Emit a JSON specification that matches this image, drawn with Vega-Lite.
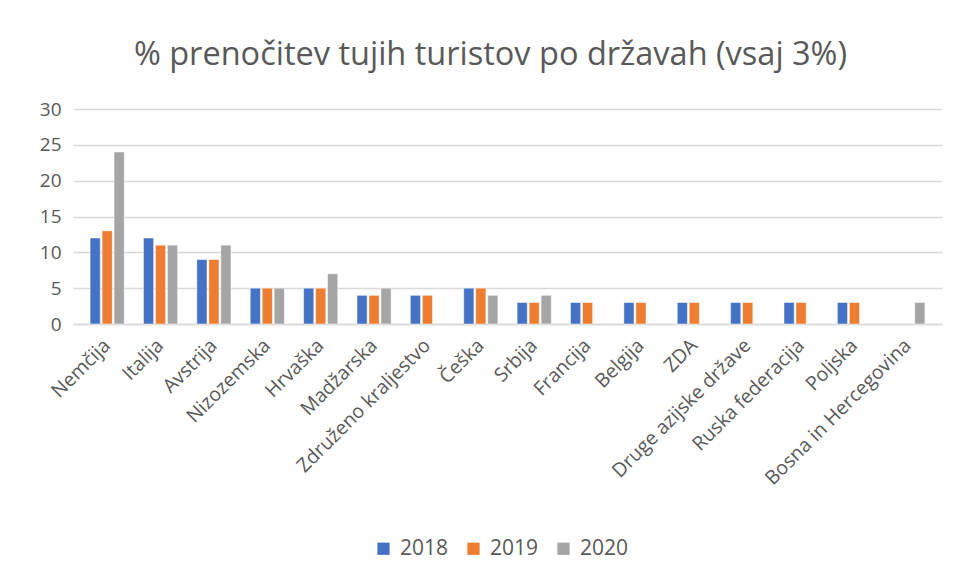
{
  "$schema": "https://vega.github.io/schema/vega-lite/v6.json",
  "autosize": "none",
  "width": 869,
  "height": 215,
  "padding": {"left": 73, "top": 109, "right": 16, "bottom": 259},
  "background": "white",
  "title": {
    "text": "% prenočitev tujih turistov po državah (vsaj 3%)",
    "font": "Open Sans",
    "fontSize": 32.5,
    "fontWeight": "normal",
    "color": "#595959",
    "anchor": "middle",
    "offset": 29,
    "dx": -17
  },
  "data": {
    "values": [
      {"drzava": "Nemčija", "leto": "2018", "odstotek": 12},
      {"drzava": "Nemčija", "leto": "2019", "odstotek": 13},
      {"drzava": "Nemčija", "leto": "2020", "odstotek": 24},
      {"drzava": "Italija", "leto": "2018", "odstotek": 12},
      {"drzava": "Italija", "leto": "2019", "odstotek": 11},
      {"drzava": "Italija", "leto": "2020", "odstotek": 11},
      {"drzava": "Avstrija", "leto": "2018", "odstotek": 9},
      {"drzava": "Avstrija", "leto": "2019", "odstotek": 9},
      {"drzava": "Avstrija", "leto": "2020", "odstotek": 11},
      {"drzava": "Nizozemska", "leto": "2018", "odstotek": 5},
      {"drzava": "Nizozemska", "leto": "2019", "odstotek": 5},
      {"drzava": "Nizozemska", "leto": "2020", "odstotek": 5},
      {"drzava": "Hrvaška", "leto": "2018", "odstotek": 5},
      {"drzava": "Hrvaška", "leto": "2019", "odstotek": 5},
      {"drzava": "Hrvaška", "leto": "2020", "odstotek": 7},
      {"drzava": "Madžarska", "leto": "2018", "odstotek": 4},
      {"drzava": "Madžarska", "leto": "2019", "odstotek": 4},
      {"drzava": "Madžarska", "leto": "2020", "odstotek": 5},
      {"drzava": "Združeno kraljestvo", "leto": "2018", "odstotek": 4},
      {"drzava": "Združeno kraljestvo", "leto": "2019", "odstotek": 4},
      {"drzava": "Češka", "leto": "2018", "odstotek": 5},
      {"drzava": "Češka", "leto": "2019", "odstotek": 5},
      {"drzava": "Češka", "leto": "2020", "odstotek": 4},
      {"drzava": "Srbija", "leto": "2018", "odstotek": 3},
      {"drzava": "Srbija", "leto": "2019", "odstotek": 3},
      {"drzava": "Srbija", "leto": "2020", "odstotek": 4},
      {"drzava": "Francija", "leto": "2018", "odstotek": 3},
      {"drzava": "Francija", "leto": "2019", "odstotek": 3},
      {"drzava": "Belgija", "leto": "2018", "odstotek": 3},
      {"drzava": "Belgija", "leto": "2019", "odstotek": 3},
      {"drzava": "ZDA", "leto": "2018", "odstotek": 3},
      {"drzava": "ZDA", "leto": "2019", "odstotek": 3},
      {"drzava": "Druge azijske države", "leto": "2018", "odstotek": 3},
      {"drzava": "Druge azijske države", "leto": "2019", "odstotek": 3},
      {"drzava": "Ruska federacija", "leto": "2018", "odstotek": 3},
      {"drzava": "Ruska federacija", "leto": "2019", "odstotek": 3},
      {"drzava": "Poljska", "leto": "2018", "odstotek": 3},
      {"drzava": "Poljska", "leto": "2019", "odstotek": 3},
      {"drzava": "Bosna in Hercegovina", "leto": "2020", "odstotek": 3}
    ]
  },
  "mark": {"type": "bar", "stroke": "white", "strokeWidth": 0.5},
  "encoding": {
    "x": {
      "field": "drzava",
      "type": "nominal",
      "sort": null,
      "title": null,
      "scale": {"paddingInner": 0.36, "paddingOuter": 0.32},
      "axis": {
        "labelAngle": -45,
        "labelAlign": "right",
        "labelBaseline": "middle",
        "labelFont": "Open Sans",
        "labelFontSize": 19.5,
        "labelColor": "#595959",
        "labelPadding": 18,
        "labelLimit": 400,
        "labelOverlap": false,
        "ticks": false,
        "domain": true,
        "domainColor": "#d9d9d9",
        "domainWidth": 1.5,
        "grid": false
      }
    },
    "xOffset": {"field": "leto", "type": "nominal", "scale": {"paddingInner": 0.15}},
    "y": {
      "field": "odstotek",
      "type": "quantitative",
      "title": null,
      "scale": {"domain": [0, 30]},
      "axis": {
        "values": [0, 5, 10, 15, 20, 25, 30],
        "labelFont": "Open Sans",
        "labelFontSize": 19,
        "labelColor": "#595959",
        "labelPadding": 12,
        "ticks": false,
        "domain": false,
        "grid": true,
        "gridColor": "#d9d9d9",
        "gridWidth": 1.5
      }
    },
    "color": {
      "field": "leto",
      "type": "nominal",
      "title": null,
      "scale": {"domain": ["2018", "2019", "2020"], "range": ["#4472c4", "#ed7d31", "#a5a5a5"]},
      "legend": {
        "orient": "none",
        "direction": "horizontal",
        "legendX": 300,
        "legendY": 429,
        "symbolType": "square",
        "symbolSize": 150,
        "symbolStrokeWidth": 0,
        "labelFont": "Open Sans",
        "labelFontSize": 21,
        "labelColor": "#595959",
        "columnPadding": 14,
        "labelOffset": 6
      }
    }
  },
  "config": {"view": {"stroke": null}}
}
